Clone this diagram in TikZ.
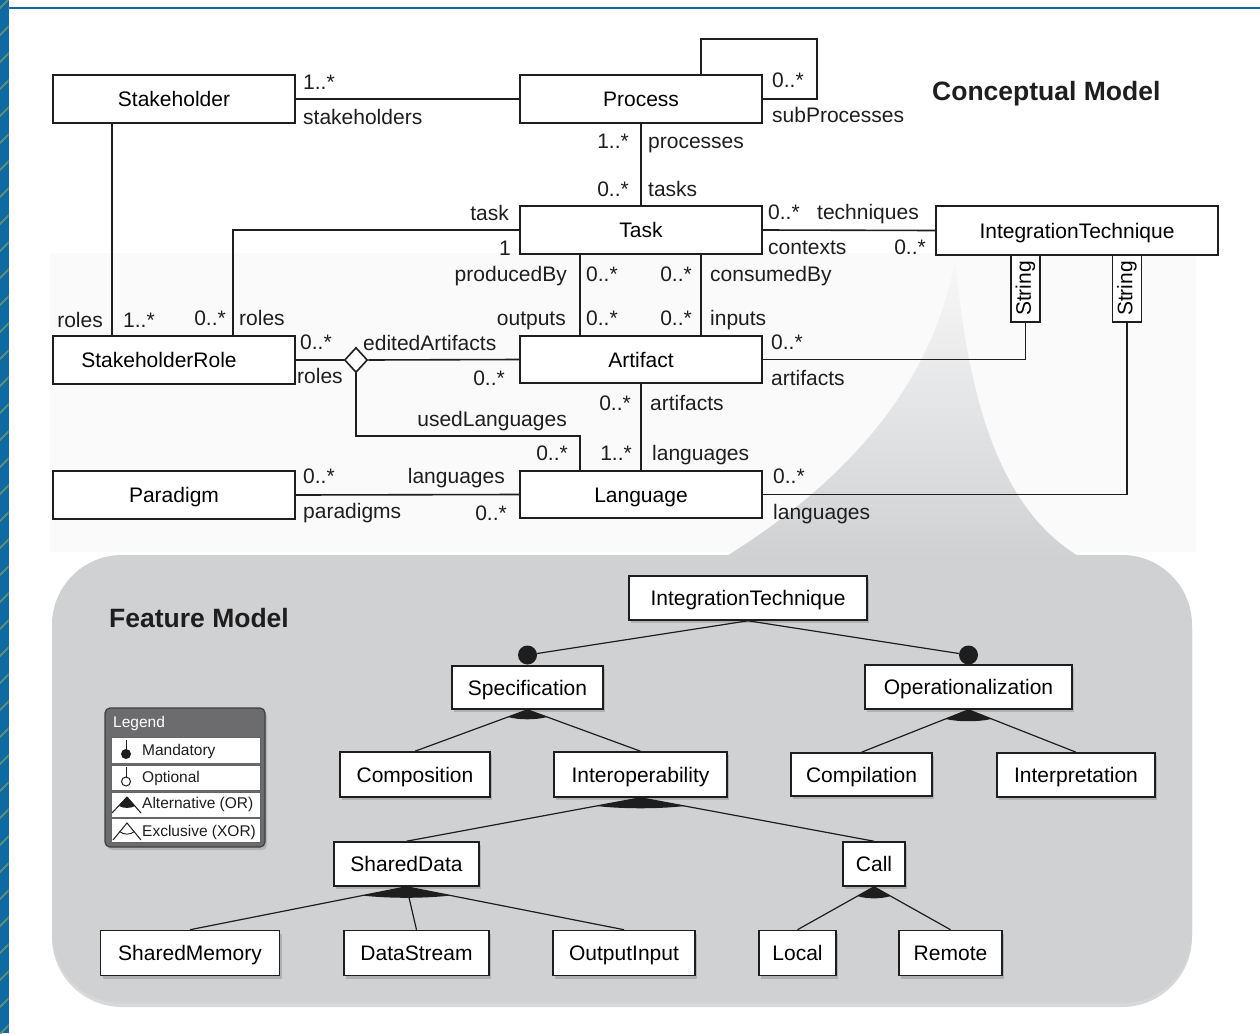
\documentclass[tikz,border=0pt]{standalone}
\usepackage{fontspec}
\setmainfont{Liberation Sans}
\usetikzlibrary{shapes.geometric,shadows,calc}
\definecolor{fmgray}{RGB}{208,209,211}
\definecolor{edgeblue}{RGB}{14,106,160}
\definecolor{stripecol}{RGB}{95,140,128}
\definecolor{leggray}{RGB}{108,108,110}
\definecolor{ink}{RGB}{30,30,30}
\newcommand\fnt{\fontsize{21}{24}\selectfont}
\newcommand\tfnt{\fontsize{26.5}{30}\selectfont\bfseries}
\newcommand\lfnt{\fontsize{15.5}{18}\selectfont}
\newcommand\orfan[4]{%
  \coordinate (#1A) at ($(#1.south)!#4!(#2.north)$);
  \coordinate (#1B) at ($(#1.south)!#4!(#3.north)$);
  \fill[ink] (#1.south) -- (#1A) .. controls ($(#1A)!.3!(#1B)+(0,3)$) and ($(#1A)!.7!(#1B)+(0,3)$) .. (#1B) -- cycle;}
\tikzset{
  cls/.style={draw=ink, line width=1.6pt, fill=white, minimum width=242pt,
    minimum height=48pt, inner sep=0pt, font=\fnt, text height=15pt, text depth=0pt},
  feat/.style={draw=ink, line width=1.6pt, fill=white, inner sep=0pt, font=\fnt,
    text height=15pt, text depth=0pt,
    drop shadow={shadow xshift=2pt, shadow yshift=-3pt, opacity=.4}},
  lbl/.style={font=\fnt, inner sep=0pt, text=ink},
  assoc/.style={line width=1.6pt, draw=ink},
  fline/.style={line width=1.2pt, draw=ink},
  qual/.style={draw=ink, line width=1.6pt, fill=white, minimum width=29pt,
    minimum height=67pt, inner sep=0pt, font=\fnt},
  mand/.style={circle, fill=ink, inner sep=0pt, minimum size=19pt},
  legrow/.style={draw=black!60, line width=.8pt, fill=white},
  legtxt/.style={font=\lfnt, inner sep=0pt, anchor=base west, text=ink}
}
\begin{document}
\begin{tikzpicture}[x=1pt,y=-1pt]
\useasboundingbox (0,0) rectangle (1260,1033);
\fill[white] (0,0) rectangle (1260,1033);
% faint background
\fill[black!2] (50,253) rectangle (1196,552);
% left band and top rule
\fill[edgeblue] (0,0) rectangle (8.5,1033);
\begin{scope}
  \clip (0,0) rectangle (8.5,1033);
  \foreach \yy in {0,27,...,1060} \draw[stripecol, line width=2pt] (-1,\yy+9) -- (10,\yy-2);
\end{scope}
\draw[edgeblue, line width=2.5pt] (8,8) -- (1260,8);

% feature model area and callout
\fill[fmgray, rounded corners=70pt,
  drop shadow={shadow xshift=0pt, shadow yshift=-4pt, opacity=.3}]
  (52,555) rectangle (1192,1003);
\shade[top color=fmgray!15, middle color=fmgray!85, bottom color=fmgray]
  (955,258) .. controls (935,380) and (850,480) .. (725,557)
  -- (1080,557) .. controls (1000,510) and (968,400) .. (955,258) -- cycle;

% ---------------- Conceptual model ----------------
\node[cls] (sh) at (174,99) {Stakeholder};
\node[cls] (proc) at (641,99) {Process};
\node[cls] (task) at (641,230) {Task};
\node[cls, minimum width=282pt, minimum height=49pt] (it1) at (1077,230.5) {IntegrationTechnique};
\node[cls] (shr) at (174,360) {\hspace*{-30pt}StakeholderRole};
\node[cls, minimum height=47pt] (art) at (641,359.5) {Artifact};
\node[cls, minimum height=47pt] (lang) at (641,494.5) {Language};
\node[cls] (par) at (174,495) {Paradigm};
\node[diamond, draw=ink, line width=1.6pt, fill=white, minimum width=23pt,
  minimum height=25pt, inner sep=0pt] (dia) at (356,360) {};
\node[qual] (q1) at (1025.5,288.5) {\rotatebox{90}{String}};
\node[qual] (q2) at (1127,288.5) {\rotatebox{90}{String}};

\coordinate (pl1) at (701,39);
\coordinate (pl2) at (817,39);
\draw[assoc] (sh.east) -- (proc.west);
\draw[assoc] (proc.north -| pl1) -- (pl1) -- (pl2) |- (proc.east);
\draw[assoc] (proc.south) -- (task.north);
\draw[assoc] (task.east) -- (it1.west);
\draw[assoc] (task.west) -| ($(shr.north west)+(181,0)$);
\draw[assoc] ($(sh.south west)+(60,0)$) -- ($(shr.north west)+(60,0)$);
\draw[assoc] (shr.east) -- (dia.west);
\draw[assoc] (dia.east) -- (art.west);
\draw[assoc] (dia.south) |- ($(lang.north west)+(61,-34)$) -- ($(lang.north west)+(61,0)$);
\draw[assoc] ($(task.south west)+(61,0)$) -- ($(art.north west)+(61,0)$);
\draw[assoc] ($(task.south west)+(182,0)$) -- ($(art.north west)+(182,0)$);
\draw[assoc] (art.east) -| (q1.south);
\draw[assoc] (lang.east) -| (q2.south);
\draw[assoc] (art.south) -- (lang.north);
\draw[assoc] (par.east) -- (lang.west);

\foreach \a/\x/\y/\txt [count=\i] in {
  base west/303/89/1..*, base west/303/124/stakeholders,
  base west/772/88/0..*, base west/772/122/subProcesses,
  base east/629/148/1..*, base west/648/148/processes,
  base east/629/196/0..*, base west/648/196/tasks,
  base east/509/220/task, base east/511/255/1,
  base west/768/219/0..*, base west/817/219/techniques,
  base west/768/254/contexts, base east/926/254/0..*,
  base east/567/281/producedBy, base west/586/281/0..*,
  base east/692/281/0..*, base west/710/281/consumedBy,
  base east/566/325/outputs, base west/586/325/0..*,
  base east/692/325/0..*, base west/710/325/inputs,
  base east/103/327/roles, base west/123/327/1..*,
  base east/226/325/0..*, base west/239/325/roles,
  base west/300/349/0..*, base west/363/350/editedArtifacts,
  base west/297/383/roles, base east/505/385/0..*,
  base west/771/349/0..*, base west/771/385/artifacts,
  base east/631/410/0..*, base west/650/410/artifacts,
  base east/567/426/usedLanguages,
  base east/568/460/0..*, base east/632/460/1..*, base west/652/460/languages,
  base west/303/483/0..*, base east/505/483/languages,
  base west/303/518/paradigms, base east/507/520/0..*,
  base west/773/483/0..*, base west/773/519/languages}
  \node[lbl, anchor=\a] (lab\i) at (\x,\y) {\txt};

\node[font=\tfnt, anchor=base west, inner sep=0pt, text=ink] (ctitle) at (932,100) {Conceptual Model};

% ---------------- Feature model ----------------
\node[font=\tfnt, anchor=base west, inner sep=0pt, text=ink] (ftitle) at (109,627) {Feature Model};

\node[feat, minimum width=238pt, minimum height=44pt] (it2) at (748,598) {IntegrationTechnique};
\node[feat, minimum width=151pt, minimum height=43pt] (spec) at (527.5,687.5) {Specification};
\node[feat, minimum width=207pt, minimum height=44pt] (oper) at (968.5,687) {Operationalization};
\node[feat, minimum width=150pt, minimum height=45pt] (comp) at (415,774.5) {Composition};
\node[feat, minimum width=173pt, minimum height=45pt] (inter) at (640.5,774.5) {Interoperability};
\node[feat, minimum width=141pt, minimum height=43pt] (compil) at (861.5,774.5) {Compilation};
\node[feat, minimum width=158pt, minimum height=44pt] (interp) at (1076,775) {Interpretation};
\node[feat, minimum width=145pt, minimum height=44pt] (shd) at (406.5,864) {SharedData};
\node[feat, minimum width=62pt, minimum height=44pt] (call) at (874,864) {Call};
\node[feat, minimum width=179pt, minimum height=45pt] (smem) at (190,953) {SharedMemory};
\node[feat, minimum width=145pt, minimum height=45pt] (dstr) at (416.5,953) {DataStream};
\node[feat, minimum width=142pt, minimum height=45pt] (outin) at (624,953) {OutputInput};
\node[feat, minimum width=77pt, minimum height=45pt] (local) at (797.5,953) {Local};
\node[feat, minimum width=103pt, minimum height=45pt] (remote) at (950.5,953) {Remote};

\node[mand] (m1) at (527.5,655) {};
\node[mand] (m2) at (968.5,655) {};
\draw[fline] (it2.south) -- (m1);
\draw[fline] (it2.south) -- (m2);

\draw[fline] (spec.south) -- (comp.north);
\draw[fline] (spec.south) -- (inter.north);
\orfan{spec}{comp}{inter}{21pt}
\draw[fline] (oper.south) -- (compil.north);
\draw[fline] (oper.south) -- (interp.north);
\orfan{oper}{compil}{interp}{25pt}
\draw[fline] (inter.south) -- (shd.north);
\draw[fline] (inter.south) -- (call.north);
\orfan{inter}{shd}{call}{45pt}
\draw[fline] (shd.south) -- (smem.north);
\draw[fline] (shd.south) -- (dstr.north);
\draw[fline] (shd.south) -- (outin.north);
\orfan{shd}{smem}{outin}{45pt}
\draw[fline] (call.south) -- (local.north);
\draw[fline] (call.south) -- (remote.north);
\orfan{call}{local}{remote}{19pt}

% ---------------- Legend ----------------
\node[draw=black!75, line width=1.2pt, fill=leggray, rounded corners=5pt,
  minimum width=160pt, minimum height=139pt, inner sep=0pt,
  drop shadow={shadow xshift=2pt, shadow yshift=-3pt, opacity=.35}] (leg) at (185,777.5) {};
\node[font=\lfnt, text=white, anchor=base west, inner sep=0pt] (legt) at (113,727) {Legend};
\node[legrow, minimum width=149pt, minimum height=26pt, inner sep=0pt] (r1) at (185.5,750) {};
\node[legrow, minimum width=149pt, minimum height=25pt, inner sep=0pt] (r2) at (185.5,777.5) {};
\node[legrow, minimum width=149pt, minimum height=25pt, inner sep=0pt] (r3) at (185.5,804.5) {};
\node[legrow, minimum width=149pt, minimum height=24pt, inner sep=0pt] (r4) at (185.5,830.5) {};
\node[legtxt] (t1) at (142,755) {Mandatory};
\node[legtxt] (t2) at (142,782) {Optional};
\node[legtxt] (t3) at (142,808.5) {Alternative (OR)};
\node[legtxt] (t4) at (142,836) {Exclusive (XOR)};
% icons
\draw[ink, line width=1pt] (126,740) -- (126,750);
\fill[ink] (126,754) circle (5pt);
\draw[ink, line width=1pt] (126,767) -- (126,777);
\draw[ink, line width=1pt, fill=white] (126,781.5) circle (4.5pt);
\fill[ink] (127,797) -- (119,806) .. controls (123,808.5) and (131,808.5) .. (135,806) -- cycle;
\draw[ink, line width=1pt] (112,813) -- (127,797) -- (141,813);
\draw[ink, line width=1pt] (113,840) -- (127,823) -- (141,840);
\draw[ink, line width=.9pt] (119.5,831.5) .. controls (124,835) and (130,835) .. (134.5,831.5);
\end{tikzpicture}
\end{document}
